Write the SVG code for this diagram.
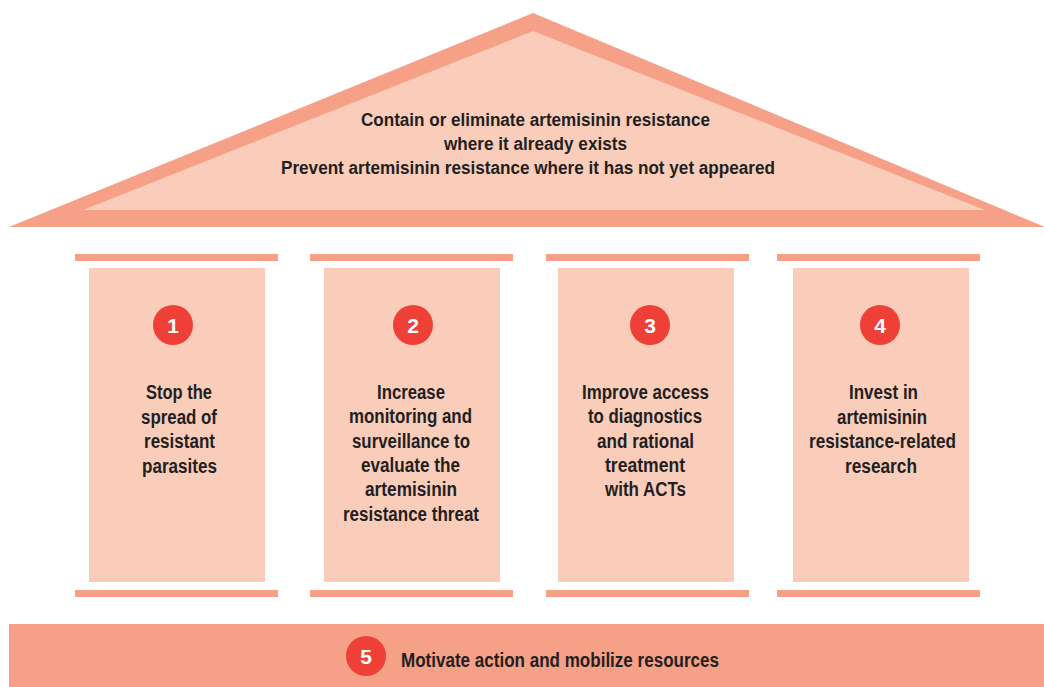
<svg xmlns="http://www.w3.org/2000/svg" width="1044" height="687" viewBox="0 0 1044 687">
<style>
.dark{fill:#F6A087}
.light{fill:#FACDBA}
.badge{fill:#EE4036}
.t{font-family:"Liberation Sans",Arial,sans-serif;font-weight:bold;font-size:19.5px;fill:#231F20;text-anchor:middle}
.r{font-size:17.5px}
.n{font-family:"Liberation Sans",Arial,sans-serif;font-weight:bold;font-size:21px;fill:#FFFFFF;text-anchor:middle}
</style>
<rect width="1044" height="687" fill="#FFFFFF"/>
<g id="roof">
<polygon class="dark" points="533,13 9,227 1045,227"/>
<polygon class="light" points="533,31 83,210 985,210"/>
<text class="t r" x="535.5" y="126" textLength="349" lengthAdjust="spacingAndGlyphs">Contain or eliminate artemisinin resistance</text>
<text class="t r" x="535.5" y="150" textLength="183" lengthAdjust="spacingAndGlyphs">where it already exists</text>
<text class="t r" x="528" y="174" textLength="494" lengthAdjust="spacingAndGlyphs">Prevent artemisinin resistance where it has not yet appeared</text>
</g>
<g id="pillar1">
<rect class="dark" x="75" y="254" width="203" height="7"/>
<rect class="light" x="89" y="268" width="176" height="314"/>
<rect class="dark" x="75" y="590" width="203" height="7"/>
<circle class="badge" cx="173" cy="325" r="20"/>
<text class="n" x="173" y="333">1</text>
<text class="t" x="179" y="399" textLength="66" lengthAdjust="spacingAndGlyphs">Stop the</text>
<text class="t" x="179" y="423.5" textLength="76" lengthAdjust="spacingAndGlyphs">spread of</text>
<text class="t" x="179.5" y="448" textLength="71" lengthAdjust="spacingAndGlyphs">resistant</text>
<text class="t" x="179.5" y="472.5" textLength="75" lengthAdjust="spacingAndGlyphs">parasites</text>
</g>
<g id="pillar2">
<rect class="dark" x="310" y="254" width="203" height="7"/>
<rect class="light" x="324" y="268" width="176" height="314"/>
<rect class="dark" x="310" y="590" width="203" height="7"/>
<circle class="badge" cx="413" cy="325" r="20"/>
<text class="n" x="413" y="333">2</text>
<text class="t" x="411" y="398.5" textLength="68" lengthAdjust="spacingAndGlyphs">Increase</text>
<text class="t" x="410.5" y="423" textLength="123" lengthAdjust="spacingAndGlyphs">monitoring and</text>
<text class="t" x="411" y="447.5" textLength="118" lengthAdjust="spacingAndGlyphs">surveillance to</text>
<text class="t" x="410.5" y="471.5" textLength="99" lengthAdjust="spacingAndGlyphs">evaluate the</text>
<text class="t" x="411" y="496" textLength="92" lengthAdjust="spacingAndGlyphs">artemisinin</text>
<text class="t" x="411" y="520.5" textLength="136" lengthAdjust="spacingAndGlyphs">resistance threat</text>
</g>
<g id="pillar3">
<rect class="dark" x="546" y="254" width="203" height="7"/>
<rect class="light" x="558" y="268" width="176" height="314"/>
<rect class="dark" x="546" y="590" width="203" height="7"/>
<circle class="badge" cx="650" cy="325" r="20"/>
<text class="n" x="650" y="333">3</text>
<text class="t" x="645.5" y="398.5" textLength="127" lengthAdjust="spacingAndGlyphs">Improve access</text>
<text class="t" x="645" y="423" textLength="114" lengthAdjust="spacingAndGlyphs">to diagnostics</text>
<text class="t" x="645.5" y="447.5" textLength="97" lengthAdjust="spacingAndGlyphs">and rational</text>
<text class="t" x="645" y="471.5" textLength="80" lengthAdjust="spacingAndGlyphs">treatment</text>
<text class="t" x="645.5" y="496" textLength="81" lengthAdjust="spacingAndGlyphs">with ACTs</text>
</g>
<g id="pillar4">
<rect class="dark" x="777" y="254" width="203" height="7"/>
<rect class="light" x="793" y="268" width="176" height="314"/>
<rect class="dark" x="777" y="590" width="203" height="7"/>
<circle class="badge" cx="880" cy="325" r="20"/>
<text class="n" x="880" y="333">4</text>
<text class="t" x="883.5" y="399" textLength="69" lengthAdjust="spacingAndGlyphs">Invest in</text>
<text class="t" x="882" y="423.5" textLength="90" lengthAdjust="spacingAndGlyphs">artemisinin</text>
<text class="t" x="882.5" y="448" textLength="147" lengthAdjust="spacingAndGlyphs">resistance-related</text>
<text class="t" x="881" y="472.5" textLength="72" lengthAdjust="spacingAndGlyphs">research</text>
</g>
<g id="base">
<rect class="dark" x="9" y="624" width="1035" height="63"/>
<circle class="badge" cx="366" cy="656" r="20"/>
<text class="n" x="366" y="663.5">5</text>
<text class="t" x="560" y="667" textLength="318" lengthAdjust="spacingAndGlyphs">Motivate action and mobilize resources</text>
</g>
<g id="connectors"></g>
</svg>
